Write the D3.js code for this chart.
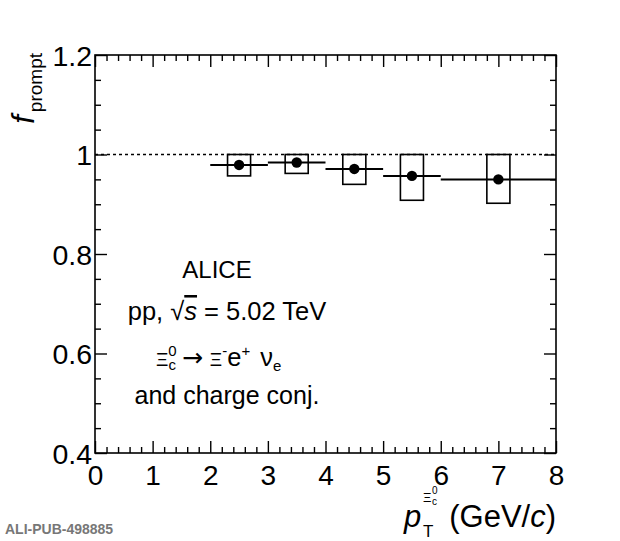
<!DOCTYPE html>
<html>
<head>
<meta charset="utf-8">
<script src="https://cdn.jsdelivr.net/npm/d3@7"></script>
<style>
  html, body { margin: 0; padding: 0; background: #fff; }
  svg { display: block; }
  text { font-family: "Liberation Sans", Arial, Helvetica, sans-serif; fill: #000; }
</style>
</head>
<body>
<svg id="chart" width="620" height="541"></svg>
<script>
// ---- data ----
const ptLow    = [2, 3, 4, 5, 6];
const ptHigh   = [3, 4, 5, 6, 8];
const ptCenter = [2.5, 3.5, 4.5, 5.5, 7];
const fPrompt  = [0.979, 0.984, 0.971, 0.957, 0.950];
const sysLow   = [0.957, 0.962, 0.940, 0.908, 0.902];
const sysHigh  = [1.0, 1.0, 1.0, 1.0, 1.0];
const sysHalfWidth = 0.2;
const xTicks = [0, 1, 2, 3, 4, 5, 6, 7, 8];
const yTicks = [0.4, 0.6, 0.8, 1.0, 1.2];
const yTickLabels = ["0.4", "0.6", "0.8", "1", "1.2"];
const refLine = 1.0;

const svg = d3.select("#chart");
const L = 95, R = 556, T = 55, B = 453;
const x = d3.scaleLinear().domain([0, 8]).range([L, R]);
const y = d3.scaleLinear().domain([0.4, 1.2]).range([B, T]);

const xMinor = d3.range(0, 8.0001, 0.2).map(v => +v.toFixed(2)).filter(v => !xTicks.includes(v));
const yMinor = d3.range(0.4, 1.2001, 0.05).map(v => +v.toFixed(2)).filter(v => !yTicks.some(t => Math.abs(t - v) < 1e-6));

function styleAxis(g) {
  g.select(".domain").remove();
  g.selectAll("line").attr("stroke", "#000").attr("stroke-width", 1.4);
}

// bottom axis
const gB = svg.append("g").attr("transform", `translate(0,${B})`);
gB.call(d3.axisBottom(x).tickValues(xTicks).tickSize(-12).tickPadding(0).tickFormat(d3.format("d"))).call(styleAxis);
gB.selectAll("text").attr("font-size", 28).attr("y", 32).attr("dy", 0)
  .attr("font-family", "Liberation Sans, Arial, sans-serif").attr("fill", "#000");
svg.append("g").attr("transform", `translate(0,${B})`)
  .call(d3.axisBottom(x).tickValues(xMinor).tickSize(-6).tickFormat("")).call(styleAxis);
// top axis
svg.append("g").attr("transform", `translate(0,${T})`)
  .call(d3.axisTop(x).tickValues(xTicks).tickSize(-12).tickFormat("")).call(styleAxis);
svg.append("g").attr("transform", `translate(0,${T})`)
  .call(d3.axisTop(x).tickValues(xMinor).tickSize(-6).tickFormat("")).call(styleAxis);
// left axis
const gL = svg.append("g").attr("transform", `translate(${L},0)`);
gL.call(d3.axisLeft(y).tickValues(yTicks).tickSize(-12).tickPadding(0)
  .tickFormat((d, i) => yTickLabels[i])).call(styleAxis);
gL.selectAll("text").attr("font-size", 28.5).attr("x", -3).attr("dy", "0.36em")
  .attr("font-family", "Liberation Sans, Arial, sans-serif").attr("fill", "#000");
svg.append("g").attr("transform", `translate(${L},0)`)
  .call(d3.axisLeft(y).tickValues(yMinor).tickSize(-6).tickFormat("")).call(styleAxis);
// right axis
svg.append("g").attr("transform", `translate(${R},0)`)
  .call(d3.axisRight(y).tickValues(yTicks).tickSize(-12).tickFormat("")).call(styleAxis);
svg.append("g").attr("transform", `translate(${R},0)`)
  .call(d3.axisRight(y).tickValues(yMinor).tickSize(-6).tickFormat("")).call(styleAxis);

// frame
svg.append("rect").attr("x", L).attr("y", T).attr("width", R - L).attr("height", B - T)
  .attr("fill", "none").attr("stroke", "#000").attr("stroke-width", 1.6);

// reference dotted line
svg.append("line").attr("x1", x(0)).attr("x2", x(8)).attr("y1", y(refLine)).attr("y2", y(refLine))
  .attr("stroke", "#000").attr("stroke-width", 1.5).attr("stroke-dasharray", "3,3");

const data = ptCenter.map((c, i) => ({ c, lo: ptLow[i], hi: ptHigh[i], v: fPrompt[i], sl: sysLow[i], sh: sysHigh[i] }));

// systematic boxes
svg.append("g").selectAll("rect").data(data).join("rect")
  .attr("x", d => x(d.c - sysHalfWidth)).attr("width", d => x(d.c + sysHalfWidth) - x(d.c - sysHalfWidth))
  .attr("y", d => y(d.sh)).attr("height", d => y(d.sl) - y(d.sh))
  .attr("fill", "none").attr("stroke", "#000").attr("stroke-width", 1.6);

// bin-width bars
svg.append("g").selectAll("line").data(data).join("line")
  .attr("x1", d => x(d.lo)).attr("x2", d => x(d.hi))
  .attr("y1", d => y(d.v)).attr("y2", d => y(d.v))
  .attr("stroke", "#000").attr("stroke-width", 2);

// markers
svg.append("g").selectAll("circle").data(data).join("circle")
  .attr("cx", d => x(d.c)).attr("cy", d => y(d.v)).attr("r", 5.2).attr("fill", "#000");

// y title
const yt = svg.append("text").attr("transform", "translate(34,53) rotate(-90)")
  .attr("text-anchor", "end");
yt.append("tspan").attr("font-size", 31).attr("font-style", "italic").text("f");
yt.append("tspan").attr("font-size", 19).attr("dx", 3).attr("dy", 8).text("prompt");

// x title
svg.append("text").attr("x", 404).attr("y", 527).attr("font-size", 31).attr("font-style", "italic").text("p");
svg.append("text").attr("x", 423).attr("y", 537).attr("font-size", 17).text("T");
svg.append("text").attr("x", 423).attr("y", 502).attr("font-size", 13).text("Ξ");
svg.append("text").attr("x", 432).attr("y", 505).attr("font-size", 10).text("c");
svg.append("text").attr("x", 432).attr("y", 494).attr("font-size", 10).text("0");
const xt = svg.append("text").attr("x", 556).attr("y", 527).attr("font-size", 31).attr("text-anchor", "end");
xt.append("tspan").text("(GeV/");
xt.append("tspan").attr("font-style", "italic").text("c");
xt.append("tspan").text(")");

// annotation
svg.append("text").attr("x", 217).attr("y", 278).attr("font-size", 24).attr("text-anchor", "middle").text("ALICE");
const t2 = svg.append("text").attr("x", 227).attr("y", 320).attr("font-size", 25.5).attr("text-anchor", "middle");
t2.append("tspan").text("pp, ");
t2.append("tspan").text("√");
t2.append("tspan").attr("font-style", "italic").attr("text-decoration", "overline").text("s");
t2.append("tspan").text(" = 5.02 TeV");

const t3 = svg.append("text").attr("x", 156).attr("y", 366).attr("font-size", 25.5);
t3.append("tspan").attr("font-size", 19).text("Ξ");
t3.append("tspan").attr("font-size", 15).attr("dy", -10).text("0");
t3.append("tspan").attr("font-size", 15).attr("dx", -8.3).attr("dy", 14).text("c");
t3.append("tspan").attr("dy", -4).attr("dx", 6).attr("font-family", "DejaVu Sans").attr("font-size", 25).text("→");
t3.append("tspan").attr("dx", 7).attr("font-size", 19).text("Ξ");
t3.append("tspan").attr("font-size", 15).attr("dy", -10).text("-");
t3.append("tspan").attr("dy", 10).text("e");
t3.append("tspan").attr("font-size", 15).attr("dy", -10).text("+");
t3.append("tspan").attr("dy", 10).attr("dx", 3).text(" ν");
t3.append("tspan").attr("font-size", 15).attr("dy", 5).text("e");

svg.append("text").attr("x", 227).attr("y", 404).attr("font-size", 25).attr("text-anchor", "middle").text("and charge conj.");

// publication id
svg.append("text").attr("x", 5).attr("y", 534).attr("font-size", 14)
  .attr("font-family", "Liberation Mono, Courier New, monospace").attr("font-weight", "bold")
  .style("fill", "#777").text("ALI-PUB-498885");
</script>
</body>
</html>
